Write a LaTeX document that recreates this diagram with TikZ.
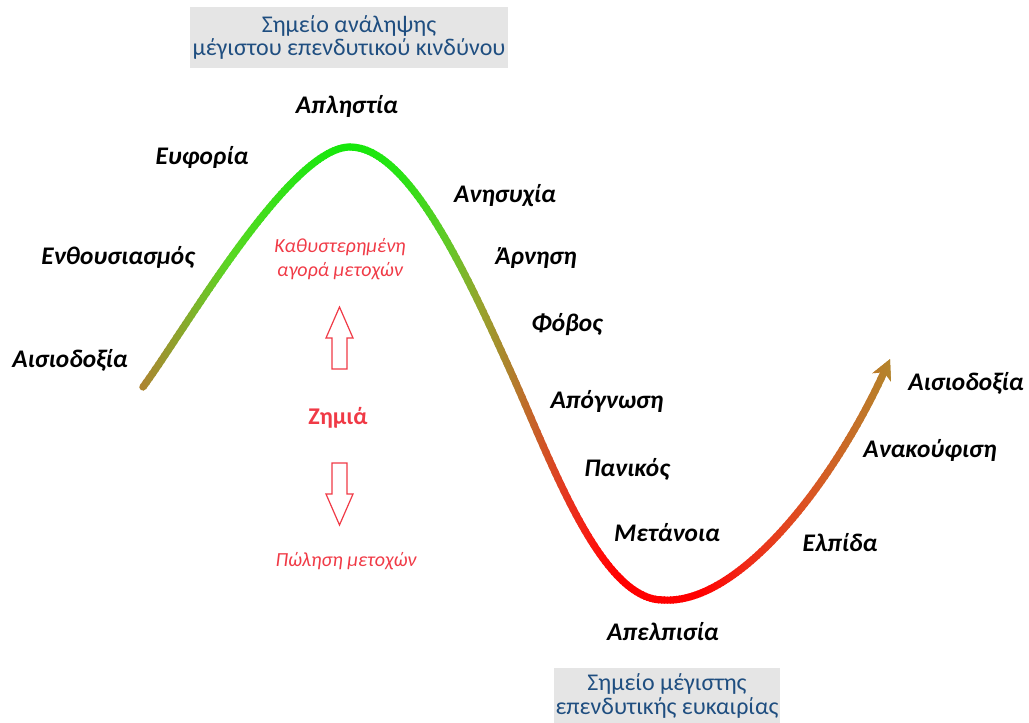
\documentclass[tikz,border=0pt]{standalone}
\usepackage{fontspec}
\setmainfont{Carlito}
\usetikzlibrary{arrows.meta}
\definecolor{boxgray}{RGB}{229,229,229}
\definecolor{boxblue}{RGB}{31,78,128}
\definecolor{lossred}{RGB}{240,58,70}
\definecolor{g0}{RGB}{185,120,50}
\definecolor{g1}{RGB}{140,165,45}
\definecolor{g2}{RGB}{90,215,35}
\definecolor{g3}{RGB}{40,228,20}
\definecolor{g4}{RGB}{20,232,10}
\definecolor{g5}{RGB}{40,228,20}
\definecolor{g6}{RGB}{100,200,40}
\definecolor{g7}{RGB}{150,165,45}
\definecolor{g8}{RGB}{175,130,45}
\definecolor{g9}{RGB}{205,90,40}
\definecolor{g10}{RGB}{232,50,30}
\definecolor{g11}{RGB}{255,15,10}
\definecolor{g12}{RGB}{255,0,0}
\definecolor{g13}{RGB}{255,0,0}
\definecolor{g14}{RGB}{238,45,25}
\definecolor{g15}{RGB}{218,85,35}
\definecolor{g16}{RGB}{195,115,40}
\definecolor{g17}{RGB}{172,140,45}
\tikzset{
  lab/.style={font=\fontsize{19}{22}\selectfont\bfseries\itshape, text=black, inner sep=0pt},
  infobox/.style={fill=boxgray, inner sep=0pt},
  infotext/.style={text=boxblue, font=\fontsize{18}{18}\selectfont, inner sep=0pt, anchor=base},
  redsmall/.style={text=lossred, font=\fontsize{15}{18}\selectfont\itshape, inner sep=0pt, anchor=base},
  redbig/.style={text=lossred, font=\fontsize{18}{20}\selectfont\bfseries, inner sep=0pt},
  blockarrow/.style={draw=lossred, line width=0.9pt, fill=white, line join=miter},
  cycleline/.style={line width=5.4pt, line cap=round,
    -{Stealth[length=15pt, width=15pt, inset=4pt]}}
}
\begin{document}
\begin{tikzpicture}[x=0.75pt, y=-0.75pt]
\useasboundingbox (0,0) rectangle (1029,722);

% curve key points
\coordinate (S) at (143,387);
\coordinate (P) at (350,147);
\coordinate (M) at (510,370);
\coordinate (B) at (663,600);
\coordinate (E) at (890,359);

% gradient-coloured curve, drawn in vertical strips
\foreach \xa/\ca/\xb/\cb in {128/g0/180/g1, 180/g1/230/g2, 230/g2/300/g3, 300/g3/350/g4,
   350/g4/400/g5, 400/g5/450/g6, 450/g6/480/g7, 480/g7/510/g8, 510/g8/540/g9,
   540/g9/570/g10, 570/g10/600/g11, 600/g11/620/g12, 620/g12/700/g13, 700/g13/750/g14,
   750/g14/810/g15, 810/g15/860/g16, 860/g16/905/g17}{
  \pgfmathtruncatemacro\n{max(1,round((\xb-\xa)/3))}
  \foreach \k in {1,...,\n}{
    \pgfmathsetmacro\xl{\xa+(\k-1)*(\xb-\xa)/\n-0.5}
    \pgfmathsetmacro\xr{\xa+\k*(\xb-\xa)/\n+0.5}
    \pgfmathtruncatemacro\p{100*(\k-0.5)/\n}
    \begin{scope}
      \clip (\xl,-10) rectangle (\xr,740);
      \draw[cycleline, draw={\cb!\p!\ca}]
        (S) .. controls (185,330) and (290,147) .. (P)
            .. controls (410,147) and (470,282) .. (M)
            .. controls (550,458) and (600,600) .. (B)
            .. controls (740,605) and (835,480) .. (E);
    \end{scope}
  }
}

% grey boxes
\node[infobox, minimum width=238.5pt, minimum height=45.75pt, anchor=north west] (riskbox) at (190,7) {};
\node[infotext] (risk1) at (349,32) {Σημείο ανάληψης};
\node[infotext] (risk2) at (349,55) {μέγιστου επενδυτικού κινδύνου};
\node[infobox, minimum width=169.5pt, minimum height=45pt, anchor=north west] (oppbox) at (554,668) {};
\node[infotext] (opp1) at (667,690) {Σημείο μέγιστης};
\node[infotext] (opp2) at (667,714) {επενδυτικής ευκαιρίας};

% stage labels
\node[lab] (greed) at (347,106) {Απληστία};
\node[lab] (euph) at (202,157) {Ευφορία};
\node[lab] (enth) at (118,257) {Ενθουσιασμός};
\node[lab] (opt1) at (70,360) {Αισιοδοξία};
\node[lab] (worry) at (505,196) {Ανησυχία};
\node[lab] (denial) at (536,258) {Άρνηση};
\node[lab] (fear) at (567,325) {Φόβος};
\node[lab] (desp) at (607,401) {Απόγνωση};
\node[lab] (panic) at (627,469) {Πανικός};
\node[lab] (regret) at (667,533) {Μετάνοια};
\node[lab] (hopeless) at (663,632) {Απελπισία};
\node[lab] (hope) at (840,543) {Ελπίδα};
\node[lab] (relief) at (930,450) {Ανακούφιση};
\node[lab] (opt2) at (966,383) {Αισιοδοξία};

% loss zone
\node[redsmall] (lateb1) at (340,252) {Καθυστερημένη};
\node[redsmall] (lateb2) at (340,276) {αγορά μετοχών};
\node[redbig] (loss) at (338,418) {Ζημιά};
\node[redsmall] (sell) at (346,566) {Πώληση μετοχών};
\draw[blockarrow] (339.5,307) -- (353,338) -- (347,338) -- (347,369) -- (332,369)
  -- (332,338) -- (326,338) -- cycle;
\draw[blockarrow] (339.5,525) -- (353,494) -- (347,494) -- (347,463) -- (332,463)
  -- (332,494) -- (326,494) -- cycle;
\end{tikzpicture}
\end{document}
